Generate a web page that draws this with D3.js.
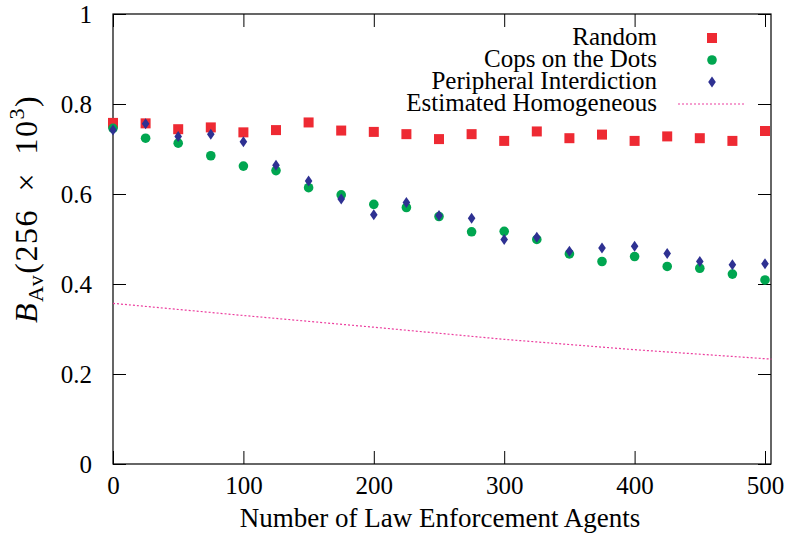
<!DOCTYPE html>
<html>
<head>
<meta charset="utf-8">
<script src="https://cdn.jsdelivr.net/npm/d3@7"></script>
<style>
  body { margin: 0; background: #fff; }
  text { font-family: "Liberation Serif", serif; fill: #000; }
</style>
</head>
<body>
<script>
  // data
  var agents = [0, 25, 50, 75, 100, 125, 150, 175, 200, 225, 250, 275, 300, 325, 350, 375, 400, 425, 450, 475, 500];
  var randomVals = [0.758, 0.757, 0.744, 0.748, 0.737, 0.742, 0.759, 0.741, 0.738, 0.733, 0.722,
                    0.733, 0.718, 0.739, 0.724, 0.732, 0.718, 0.728, 0.724, 0.718, 0.740];
  var copsVals = [0.746, 0.724, 0.713, 0.685, 0.662, 0.652, 0.614, 0.598, 0.577, 0.570, 0.550,
                  0.516, 0.517, 0.499, 0.467, 0.450, 0.461, 0.439, 0.435, 0.422, 0.409];
  var periphVals = [0.742, 0.756, 0.728, 0.733, 0.716, 0.664, 0.629, 0.589, 0.554, 0.581, 0.552,
                    0.546, 0.499, 0.504, 0.473, 0.480, 0.484, 0.468, 0.450, 0.443, 0.445];
  var homogX = [0, 100, 200, 300, 400, 505];
  var homogVals = [0.357, 0.330, 0.304, 0.277, 0.254, 0.233];
  var xTicks = [0, 100, 200, 300, 400, 500];
  var yTicks = [0, 0.2, 0.4, 0.6, 0.8, 1];
  var legendLabels = ["Random", "Cops on the Dots", "Peripheral Interdiction", "Estimated Homogeneous"];

  var width = 786, height = 534;
  var mLeft = 113, mRight = 771, mTop = 14, mBottom = 464;

  var svg = d3.select("body").append("svg")
      .attr("width", width)
      .attr("height", height);

  var x = d3.scaleLinear().domain([0, 504.6]).range([mLeft, mRight]);
  var y = d3.scaleLinear().domain([0, 1]).range([mBottom, mTop]);

  var fmtY = function(d) { return d === 0 ? "0" : d === 1 ? "1" : d.toFixed(1); };

  // axes, ticks pointing inward
  svg.append("g").attr("transform", "translate(0," + mBottom + ")")
      .call(d3.axisBottom(x).tickValues(xTicks).tickSize(-13).tickPadding(12));
  svg.append("g").attr("transform", "translate(" + mLeft + ",0)")
      .call(d3.axisLeft(y).tickValues(yTicks).tickSize(-13).tickPadding(21).tickFormat(fmtY));
  svg.append("g").attr("transform", "translate(0," + mTop + ")")
      .call(d3.axisTop(x).tickValues(xTicks).tickSize(-13).tickFormat(""));
  svg.append("g").attr("transform", "translate(" + mRight + ",0)")
      .call(d3.axisRight(y).tickValues(yTicks).tickSize(-13).tickFormat(""));

  svg.selectAll(".domain").remove();
  svg.selectAll(".tick line").attr("stroke", "#000").attr("stroke-width", 1);
  svg.selectAll(".tick text").style("font-size", "25px").style("font-family", "Liberation Serif");

  svg.append("rect")
      .attr("x", mLeft).attr("y", mTop)
      .attr("width", mRight - mLeft).attr("height", mBottom - mTop)
      .attr("fill", "none").attr("stroke", "#000").attr("stroke-width", 1.2);

  // estimated homogeneous line
  var line = d3.line()
      .x(function(d, i) { return x(homogX[i]); })
      .y(function(d) { return y(d); });
  svg.append("path")
      .datum(homogVals)
      .attr("d", line)
      .attr("fill", "none")
      .attr("stroke", "#ec3f9f")
      .attr("stroke-width", 1.2)
      .attr("stroke-dasharray", "2,2");

  var red = "#ee2a33", green = "#00a650", blue = "#2e3192";

  function diamondPath(cx, cy) {
    var p = d3.path();
    p.moveTo(cx, cy - 5.5);
    p.lineTo(cx + 3.8, cy);
    p.lineTo(cx, cy + 5.5);
    p.lineTo(cx - 3.8, cy);
    p.closePath();
    return p.toString();
  }

  // random: squares
  svg.append("g").selectAll("rect")
      .data(randomVals)
      .enter().append("rect")
      .attr("x", function(d, i) { return x(agents[i]) - 5; })
      .attr("y", function(d) { return y(d) - 5; })
      .attr("width", 10).attr("height", 10)
      .attr("fill", red);

  // cops on the dots: circles
  svg.append("g").selectAll("circle")
      .data(copsVals)
      .enter().append("circle")
      .attr("cx", function(d, i) { return x(agents[i]); })
      .attr("cy", function(d) { return y(d); })
      .attr("r", 4.8)
      .attr("fill", green);

  // peripheral interdiction: diamonds
  svg.append("g").selectAll("path")
      .data(periphVals)
      .enter().append("path")
      .attr("d", function(d, i) { return diamondPath(x(agents[i]), y(d)); })
      .attr("fill", blue);

  // legend
  var lg = svg.append("g");
  var rowY = [38, 60, 82, 104];
  lg.selectAll("text")
      .data(legendLabels)
      .enter().append("text")
      .attr("x", 657)
      .attr("y", function(d, i) { return rowY[i] + 7; })
      .attr("text-anchor", "end")
      .style("font-size", "25px")
      .text(function(d) { return d; });
  lg.append("rect").attr("x", 707).attr("y", rowY[0] - 5).attr("width", 10).attr("height", 10).attr("fill", red);
  lg.append("circle").attr("cx", 712).attr("cy", rowY[1]).attr("r", 4.8).attr("fill", green);
  lg.append("path").attr("d", diamondPath(712, rowY[2])).attr("fill", blue);
  lg.append("line").attr("x1", 678).attr("x2", 745).attr("y1", rowY[3]).attr("y2", rowY[3])
      .attr("stroke", "#ec3f9f").attr("stroke-width", 1.2).attr("stroke-dasharray", "2,2");

  // axis titles
  svg.append("text")
      .attr("x", 440).attr("y", 527)
      .attr("text-anchor", "middle")
      .style("font-size", "27px")
      .text("Number of Law Enforcement Agents");

  var yl = svg.append("text")
      .attr("transform", "translate(37,209) rotate(-90)")
      .attr("text-anchor", "middle")
      .style("font-size", "32px")
      .style("letter-spacing", "1.5px");
  yl.append("tspan").style("font-style", "italic").text("B");
  yl.append("tspan").attr("dy", 6).style("font-size", "22px").text("Av");
  yl.append("tspan").attr("dy", -6).text("(256\u2002\u00d7\u200210");
  yl.append("tspan").attr("dy", -13).style("font-size", "22px").text("3");
  yl.append("tspan").attr("dy", 13).text(")");
</script>
</body>
</html>
